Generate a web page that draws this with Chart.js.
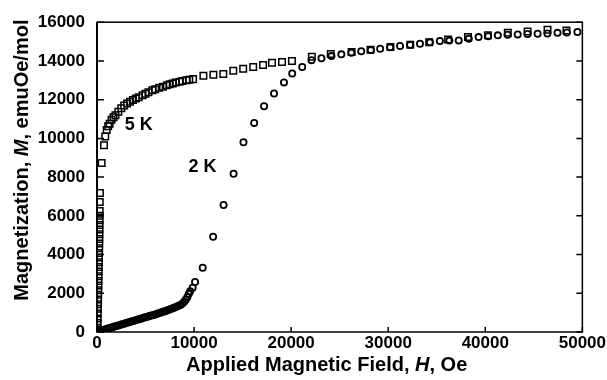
<!DOCTYPE html>
<html>
<head>
<meta charset="utf-8">
<script src="https://cdn.jsdelivr.net/npm/chart.js@4.4.1/dist/chart.umd.min.js"></script>
<style>
  html, body { margin: 0; padding: 0; background: #fff; }
  #wrap { width: 607px; height: 380px; }
</style>
</head>
<body>
<div id="wrap"><canvas id="canvas"></canvas></div>
<script>
// 5 K run (squares): field H in Oe, magnetization M in emuOe/mol
const h5K = [40, 50, 60, 70, 80, 90, 100, 110, 120, 130, 140, 150, 160, 170, 180, 190, 200, 210, 220, 230, 240, 250, 255, 260, 265, 270, 275, 285, 300,
  480, 720, 850, 1000, 1150, 1300, 1500, 1700, 1900, 2200, 2500, 2800, 3100, 3400, 3700, 4000, 4300, 4700, 5000, 5300, 5700, 6000,
  6400, 6800, 7200, 7500, 7800, 8100, 8500, 8800, 9200, 9500, 9900,
  10960, 11990, 13010, 14040, 15060, 16090, 17110, 18030, 19060, 20080,
  22130, 24080, 26230, 28180, 30230, 32270, 34220, 36170, 38220, 40270, 42320, 44360, 46410, 48360];
const m5K = [0, 220, 470, 700, 950, 1200, 1430, 1680, 1920, 2150, 2400, 2640, 2880, 3120, 3360, 3600, 3850, 4080, 4320, 4570, 4800, 5050, 5290, 5520, 5770, 6010, 6250, 6720, 7180,
  8730, 9640, 10100, 10430, 10620, 10760, 10960, 11090, 11200, 11380, 11560, 11700, 11800, 11890, 11980, 12060, 12130, 12230, 12310, 12380, 12480, 12540,
  12610, 12670, 12740, 12790, 12840, 12880, 12920, 12960, 13000, 13030, 13060,
  13230, 13280, 13330, 13490, 13590, 13690, 13790, 13900, 13950, 14000,
  14210, 14360, 14460, 14580, 14720, 14840, 14970, 15110, 15230, 15320, 15450, 15520, 15610, 15570];

// 2 K run (circles)
const h2K = [0, 150, 300, 450, 600, 800, 1000, 1200, 1400, 1600, 1800, 2000, 2200, 2400, 2600, 2800, 3000, 3200, 3400, 3600, 3800,
  4000, 4200, 4400, 4600, 4800, 5000, 5200, 5400, 5600, 5800, 6000, 6200, 6400, 6600, 6800, 7000, 7200, 7400, 7600, 7800,
  8000, 8200, 8400, 8600, 8800, 9000, 9150, 9300, 9450, 9600, 9850, 10100,
  10890, 11960, 13040, 14070, 15090, 16190, 17210, 18240, 19260, 20110, 21140, 22100,
  23120, 24150, 25170, 26200, 27220, 28200, 29170, 30200, 31220, 32250, 33270, 34300, 35320, 36300, 37260, 38300, 39310,
  40300, 41290, 42300, 43340, 44350, 45390, 46400, 47440, 48400, 49490];
const m2K = [0, 30, 55, 80, 100, 130, 160, 190, 220, 250, 280, 310, 340, 370, 400, 430, 460, 490, 520, 550, 580,
  610, 640, 670, 700, 730, 760, 790, 820, 850, 880, 910, 940, 975, 1005, 1040, 1075, 1110, 1145, 1185, 1225,
  1265, 1310, 1355, 1400, 1470, 1570, 1680, 1800, 1960, 2100, 2290, 2580,
  3320, 4920, 6560, 8170, 9800, 10800, 11660, 12320, 12890, 13350, 13690, 14040,
  14140, 14250, 14340, 14420, 14500, 14560, 14630, 14700, 14770, 14830, 14890, 14960, 15030, 15050, 15060, 15150, 15230,
  15280, 15320, 15350, 15370, 15390, 15400, 15420, 15450, 15470, 15490];

const xTicks = [0, 10000, 20000, 30000, 40000, 50000];
const yTicks = [0, 2000, 4000, 6000, 8000, 10000, 12000, 14000, 16000];

// curve labels: text, H, M
const curveLabels = [['5 K', 4300, 10670], ['2 K', 10860, 8510]];

const toPoints = (hs, ms) => hs.map((h, i) => ({ x: h, y: ms[i] }));

// draw a line of text where some pieces are italic
function drawMixed(ctx, parts, size, cx, cy) {
  const fontFor = it => (it ? 'italic ' : '') + 'bold ' + size + 'px "Liberation Sans", Arial, sans-serif';
  let total = 0;
  parts.forEach(p => { ctx.font = fontFor(p[1]); total += ctx.measureText(p[0]).width; });
  let x = cx - total / 2;
  ctx.textAlign = 'left';
  parts.forEach(p => {
    ctx.font = fontFor(p[1]);
    ctx.fillText(p[0], x, cy);
    x += ctx.measureText(p[0]).width;
  });
}

// frame, inward ticks, axis titles and curve labels
const framePlugin = {
  id: 'frame',
  afterDraw(chart) {
    const { ctx, chartArea: a, scales: { x, y } } = chart;
    ctx.save();
    ctx.strokeStyle = '#000';
    ctx.fillStyle = '#000';
    ctx.lineWidth = 1.5;
    ctx.strokeRect(a.left, a.top, a.right - a.left, a.bottom - a.top);
    ctx.lineWidth = 2;
    ctx.beginPath();
    ctx.moveTo(a.left, a.top);
    ctx.lineTo(a.left, a.bottom);
    ctx.stroke();

    ctx.lineWidth = 1.5;
    ctx.beginPath();
    yTicks.forEach(v => {
      const py = y.getPixelForValue(v);
      ctx.moveTo(a.left, py); ctx.lineTo(a.left + 7, py);
      ctx.moveTo(a.right - 6, py); ctx.lineTo(a.right, py);
    });
    xTicks.forEach(v => {
      const px = x.getPixelForValue(v);
      ctx.moveTo(px, a.bottom); ctx.lineTo(px, a.bottom - 5);
    });
    ctx.stroke();

    ctx.textBaseline = 'alphabetic';
    drawMixed(ctx, [['Applied Magnetic Field, ', false], ['H', true], [', Oe', false]], 20,
      (a.left + a.right) / 2 - 13, 371);

    ctx.save();
    ctx.translate(28, (a.top + a.bottom) / 2 - 17);
    ctx.rotate(-Math.PI / 2);
    drawMixed(ctx, [['Magnetization, ', false], ['M', true], [', emuOe/mol', false]], 20, 0, 0);
    ctx.restore();

    ctx.textBaseline = 'middle';
    ctx.textAlign = 'center';
    ctx.font = 'bold 18px "Liberation Sans", Arial, sans-serif';
    curveLabels.forEach(l => {
      ctx.fillText(l[0], x.getPixelForValue(l[1]), y.getPixelForValue(l[2]));
    });
    ctx.restore();
  }
};

const tickFont = { family: '"Liberation Sans", Arial, sans-serif', size: 17, weight: 'bold' };

new Chart(document.getElementById('canvas'), {
  type: 'scatter',
  data: {
    datasets: [
      {
        label: '5 K',
        data: toPoints(h5K, m5K),
        pointStyle: 'rect',
        pointRadius: 4.6,
        borderWidth: 1.5,
        borderColor: '#000',
        backgroundColor: 'rgba(0,0,0,0)'
      },
      {
        label: '2 K',
        data: toPoints(h2K, m2K),
        pointStyle: 'circle',
        pointRadius: 3.1,
        borderWidth: 1.8,
        borderColor: '#000',
        backgroundColor: 'rgba(0,0,0,0)'
      }
    ]
  },
  options: {
    responsive: true,
    maintainAspectRatio: false,
    animation: false,
    devicePixelRatio: 1,
    layout: { padding: { left: 0, right: 22, top: 20, bottom: 0 } },
    plugins: { legend: { display: false }, tooltip: { enabled: false } },
    scales: {
      x: {
        type: 'linear',
        min: 0,
        max: 50000,
        afterBuildTicks: s => { s.ticks = xTicks.map(v => ({ value: v })); },
        afterFit: s => { s.height = 48; },
        grid: { display: false, drawTicks: false },
        border: { display: false },
        ticks: { color: '#000', font: tickFont, padding: 1, maxRotation: 0, callback: v => String(v) }
      },
      y: {
        type: 'linear',
        min: 0,
        max: 16000,
        afterBuildTicks: s => { s.ticks = yTicks.map(v => ({ value: v })); },
        afterFit: s => { s.width = 97; },
        grid: { display: false, drawTicks: false },
        border: { display: false },
        ticks: { color: '#000', font: tickFont, padding: 12, callback: v => String(v) }
      }
    }
  },
  plugins: [framePlugin]
});
</script>
</body>
</html>
